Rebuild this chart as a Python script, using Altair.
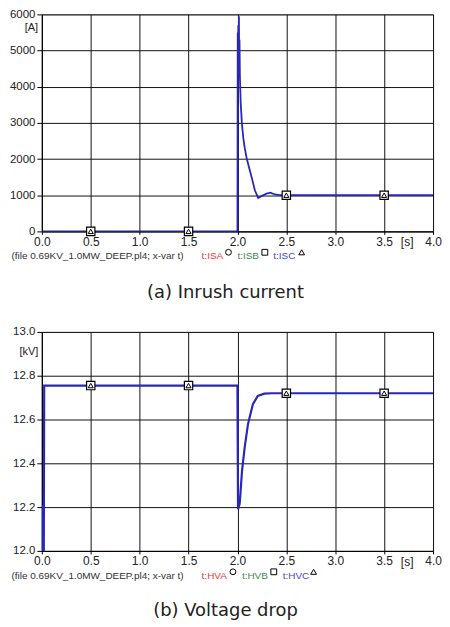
import altair as alt
import pandas as pd

# ---------------- data ----------------
# (a) inrush current [A] versus time [s]
t_cur = [0.0, 1.998, 2.000, 2.003, 2.006, 2.009, 2.012, 2.015, 2.018, 2.021,
         2.025, 2.033, 2.045, 2.060, 2.075, 2.094, 2.120, 2.145, 2.178, 2.212,
         2.246, 2.297, 2.338, 2.382, 2.433, 2.500, 3.000, 3.500, 4.000]
i_cur = [0, 0, 0, 5500, 4300, 5700, 4400, 5950, 4600, 5300,
         4300, 3570, 3000, 2580, 2300, 2030, 1750, 1500, 1135, 925,
         975, 1045, 1070, 1020, 1000, 1000, 1000, 1000, 1000]

# (b) voltage [kV] versus time [s]
t_volt = [0.0, 0.004, 0.008, 0.020, 0.024, 1.000, 2.000, 2.006, 2.012, 2.023,
          2.047, 2.074, 2.108, 2.158, 2.208, 2.275, 2.350, 3.000, 4.000]
v_volt = [12.0, 12.21, 12.0, 12.0, 12.755, 12.755, 12.755, 12.19, 12.20, 12.215,
          12.367, 12.473, 12.579, 12.670, 12.708, 12.718, 12.720, 12.720, 12.720]

# marker points
mark_t = [0.5, 1.5, 2.5, 3.5]
mark_i = [0, 0, 1000, 1000]
mark_v = [12.755, 12.755, 12.72, 12.72]

x_ticks = [0.0, 0.5, 1.0, 1.5, 2.0, 2.5, 3.0, 3.5, 4.0]
i_ticks = [0.0, 1000.0, 2000.0, 3000.0, 4000.0, 5000.0, 6000.0]
v_ticks = [12.0, 12.1, 12.2, 12.3, 12.4, 12.5, 12.6, 12.7, 12.8, 12.9, 13.0]

file_label = "(file 0.69KV_1.0MW_DEEP.pl4; x-var t)"
cur_names = ["t:ISA", "t:ISB", "t:ISC"]
volt_names = ["t:HVA", "t:HVB", "t:HVC"]
series_colors = ["#e0403a", "#3b8c4c", "#4646d6"]
series_symbols = ["circle", "square", "triangle-up"]
captions = ["(a) Inrush current", "(b) Voltage drop"]
units = ["[A]", "[kV]"]

LINE = "#2828b8"
W = 393


def txt(s, x, y, size=11, color="#222", align="left", font="Liberation Sans", baseline="middle"):
    return alt.Chart(pd.DataFrame({"s": [s]})).mark_text(
        fontSize=size, color=color, align=align, baseline=baseline, font=font
    ).encode(x=alt.value(x), y=alt.value(y), text="s:N")


def sym(shape, x, y, size):
    return alt.Chart(pd.DataFrame({"s": [shape]})).mark_point(
        shape=shape, size=size, stroke="black", strokeWidth=1, filled=False, opacity=1
    ).encode(x=alt.value(x), y=alt.value(y))


def panel(t, y, my, ydom, yaxis, unit, unit_xy, names, name_x, sym_x,
          caption, H, lab_y, sym_y, cap_y, s_y, lw):
    df = pd.DataFrame({"t": t, "y": y})
    xenc = alt.X("t:Q", scale=alt.Scale(domain=[0, 4], nice=False, zero=False),
                 axis=alt.Axis(values=x_ticks, format=".1f", title=None, labelFlush=False,
                               tickSize=3, labelPadding=2, labelFontSize=12))
    yenc = alt.Y("y:Q", scale=alt.Scale(domain=ydom, nice=False, zero=False), axis=yaxis)
    line = alt.Chart(df).mark_line(color=LINE, strokeWidth=lw, clip=True).encode(x=xenc, y=yenc)
    mk = pd.DataFrame({"t": mark_t, "y": my})
    sq = alt.Chart(mk).mark_point(shape="square", size=70, filled=True, fill="white",
                                  stroke="black", strokeWidth=1.2, opacity=1).encode(x="t:Q", y="y:Q")
    tri = alt.Chart(mk).mark_point(shape="triangle-up", size=26, filled=False,
                                   stroke="black", strokeWidth=1, opacity=1).encode(x="t:Q", y="y:Q")
    layers = [line, sq, tri,
              txt(unit, unit_xy[0], unit_xy[1], size=11, align="center"),
              txt("[s]", 367, s_y, size=12, align="center"),
              txt(file_label, -30.5, lab_y, size=10, color="#333"),
              txt(caption, 184.5, cap_y, size=18, align="center", font="DejaVu Sans")]
    for k in range(3):
        layers.append(txt(names[k], name_x[k], lab_y, size=10, color=series_colors[k]))
        layers.append(sym(series_symbols[k], sym_x[k], sym_y, 34))
    return alt.layer(*layers).properties(width=W, height=H)


top_axis = alt.Axis(values=i_ticks, tickCount=7, format="d", title=None,
                    labelOverlap=False, tickSize=5, labelPadding=2, labelFontSize=11.5)
bottom_axis = alt.Axis(values=v_ticks, title=None, labelOverlap=False,
                       labelExpr="abs(round(datum.value*10)) % 2 == 0 ? format(datum.value, '.1f') : ''",
                       tickSize=5, labelPadding=2, labelFontSize=11.5)

top = panel(t_cur, i_cur, mark_i, [0, 6000], top_axis,
            units[0], (-10.5, 14), cur_names, [160.5, 196.5, 232.5], [187.5, 224, 261],
            captions[0], 218, 243, 239, 280, 229, 1.8)
bottom = panel(t_volt, v_volt, mark_v, [12.0, 13.0], bottom_axis,
               units[1], (-13, 20), volt_names, [160.5, 201, 242], [192, 233, 273],
               captions[1], 220, 245, 241, 280, 231, 2.2)

chart = alt.vconcat(top, bottom, spacing=101, bounds="flush").properties(
    padding={"left": 0, "top": -2, "right": 0, "bottom": -2}
).configure_axis(
    domainColor="black", tickColor="black", gridColor="#111", gridOpacity=1,
    labelColor="#222", labelFont="Liberation Sans", domainWidth=1, gridWidth=1
).configure_view(stroke="#888", strokeWidth=1)

chart.save("out.html", embed_options={"renderer": "svg", "actions": False})
